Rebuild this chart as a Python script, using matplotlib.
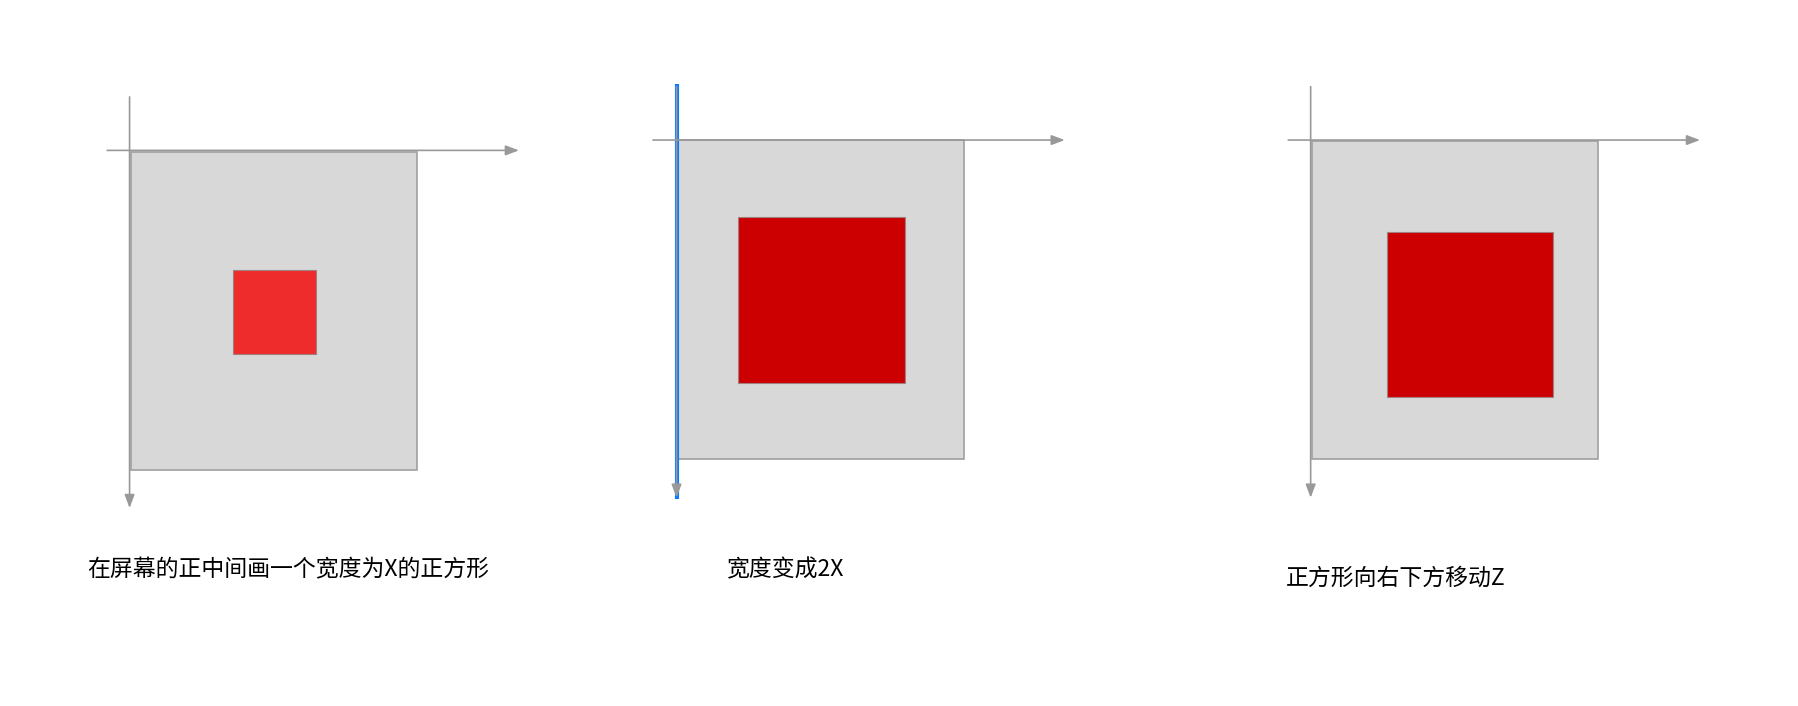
import matplotlib.pyplot as plt
from matplotlib.patches import Rectangle

plt.rcParams['font.family'] = ['Noto Sans CJK SC', 'DejaVu Sans']

# layout, in picture pixels (y grows downward)
W, H = 1568, 615
canvas_rects = [(114, 132, 250, 277), (590, 122, 251, 278), (1144, 123, 250, 277)]
square_rects = [(203, 235, 73, 73), (644, 189, 145, 145), (1210, 202, 144, 144)]
square_colors = ['#EE2C2C', '#CC0000', '#CC0000']
# horizontal axis: y, x start, x end ; vertical axis: x, y start, y end
h_axes = [(131, 91, 455), (122, 567, 931), (122, 1121, 1485)]
v_axes = [(113, 82, 445), (590, 73, 436), (1143, 73, 436)]
labels = ['在屏幕的正中间画一个宽度为X的正方形', '宽度变成2X', '正方形向右下方移动Z']
label_pos = [(76, 496), (633, 496), (1121, 504)]

fig = plt.figure(figsize=(17.98, 7.06), dpi=100)
ax = fig.add_axes([0, 0, 1, 1])
ax.set_xlim(0, W)
ax.set_ylim(H, 0)
ax.axis('off')

for (x, y, w, h) in canvas_rects:
    ax.add_patch(Rectangle((x, y), w, h, facecolor='#D8D8D8', edgecolor='#A0A0A0', lw=1.2))
for (x, y, w, h), c in zip(square_rects, square_colors):
    ax.add_patch(Rectangle((x, y), w, h, facecolor=c, edgecolor='#A08080', lw=0.8))

arrow = dict(arrowstyle='-|>,head_length=0.8,head_width=0.3', color='#999999', lw=1.2)
for (y, x0, x1) in h_axes:
    ax.annotate('', xy=(x1, y), xytext=(x0, y), arrowprops=arrow)
for (x, y0, y1) in v_axes:
    ax.annotate('', xy=(x, y1), xytext=(x, y0), arrowprops=arrow)

# blue line in the second panel
ax.plot([590, 590], [73, 435], color='#0A7AFF', lw=3, solid_capstyle='butt')

for t, (x, y) in zip(labels, label_pos):
    ax.text(x, y, t, fontsize=16.5, ha='left', va='center', color='black')

fig.savefig('out.png', dpi=100)
